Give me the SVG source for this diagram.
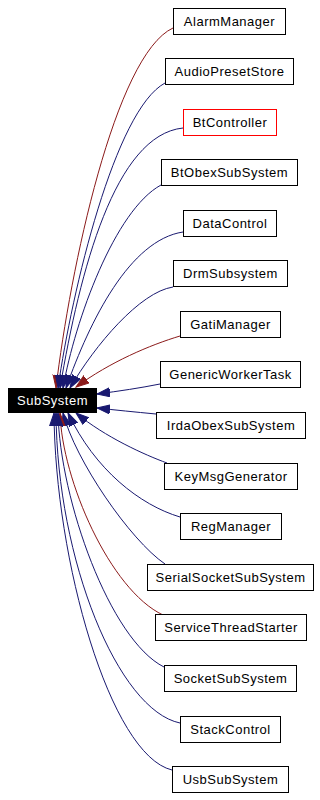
<svg xmlns="http://www.w3.org/2000/svg" width="320" height="800" viewBox="0 0 320 800">
  <style>
    .node rect { fill: #ffffff; stroke: #000000; stroke-width: 1; }
    .node text { font-family: "Liberation Sans", Arial, Helvetica, sans-serif; font-size: 13px; letter-spacing: 0.5px; fill: #000000; text-anchor: middle; }
    #SubSystem rect { fill: #000000; }
    #SubSystem text { fill: #ffffff; }
    #BtController rect { stroke: #ff0000; }
    .edge { fill: none; stroke-width: 1; }
    .pub { stroke: #191970; marker-end: url(#arrowBlue); }
    .priv { stroke: #8b1a1a; marker-end: url(#arrowRed); }
  </style>
  <defs>
    <marker id="arrowBlue" markerUnits="userSpaceOnUse" markerWidth="15" markerHeight="11" refX="13" refY="5" orient="auto">
      <path d="M0,0.5 L13,5 L0,9.5 Z" fill="#191970" stroke="#191970" stroke-width="1"/>
    </marker>
    <marker id="arrowRed" markerUnits="userSpaceOnUse" markerWidth="15" markerHeight="11" refX="13" refY="5" orient="auto">
      <path d="M0,0.5 L13,5 L0,9.5 Z" fill="#8b1a1a" stroke="#8b1a1a" stroke-width="1"/>
    </marker>
  </defs>

  <!-- inheritance connectors, drawn from each derived class to SubSystem -->
  <g id="edges">
    <path class="edge priv" d="M173,28 C115,55 70,270 56,388"/>
    <path class="edge pub" d="M165,83 C115,110 72,290 58,388"/>
    <path class="edge pub" d="M183,128 C115,135 80,270 60,388"/>
    <path class="edge pub" d="M161,185 C115,210 75,320 63,388"/>
    <path class="edge pub" d="M183,232 C130,240 90,320 66,388"/>
    <path class="edge pub" d="M173,287 C140,292 95,345 70,388"/>
    <path class="edge priv" d="M180,336 C150,345 110,362 76,387"/>
    <path class="edge pub" d="M160,384 C140,388 120,391 97,394"/>
    <path class="edge pub" d="M156,414 C135,412 115,410 97,408"/>
    <path class="edge pub" d="M167,463 C145,455 105,437 76,413"/>
    <path class="edge pub" d="M180,517 C140,505 95,470 68,413"/>
    <path class="edge pub" d="M165,564 C130,540 75,460 63,413"/>
    <path class="edge priv" d="M163,615 C110,590 62,480 60,413"/>
    <path class="edge pub" d="M164,667 C110,640 60,500 58,413"/>
    <path class="edge pub" d="M180,723 C118,710 57,560 56,413"/>
    <path class="edge pub" d="M172,770 C110,755 55,560 54,413"/>
  </g>

  <g id="SubSystem" class="node">
    <rect x="8.5" y="388.5" width="88" height="24"/>
    <text x="52.5" y="405">SubSystem</text>
  </g>

  <g id="AlarmManager" class="node">
    <rect x="173.5" y="8.5" width="112" height="26"/>
    <text x="229.5" y="26">AlarmManager</text>
  </g>
  <g id="AudioPresetStore" class="node">
    <rect x="165.5" y="58.5" width="128" height="26"/>
    <text x="229.5" y="76">AudioPresetStore</text>
  </g>
  <g id="BtController" class="node">
    <rect x="183.5" y="109.5" width="93" height="26"/>
    <text x="230" y="127">BtController</text>
  </g>
  <g id="BtObexSubSystem" class="node">
    <rect x="161.5" y="159.5" width="136" height="26"/>
    <text x="229.5" y="177">BtObexSubSystem</text>
  </g>
  <g id="DataControl" class="node">
    <rect x="183.5" y="210.5" width="93" height="26"/>
    <text x="230" y="228">DataControl</text>
  </g>
  <g id="DrmSubsystem" class="node">
    <rect x="173.5" y="260.5" width="114" height="26"/>
    <text x="230.5" y="278">DrmSubsystem</text>
  </g>
  <g id="GatiManager" class="node">
    <rect x="180.5" y="311.5" width="100" height="26"/>
    <text x="230.5" y="329">GatiManager</text>
  </g>
  <g id="GenericWorkerTask" class="node">
    <rect x="160.5" y="361.5" width="140" height="26"/>
    <text x="230.5" y="379">GenericWorkerTask</text>
  </g>
  <g id="IrdaObexSubSystem" class="node">
    <rect x="156.5" y="412.5" width="149" height="26"/>
    <text x="231" y="430">IrdaObexSubSystem</text>
  </g>
  <g id="KeyMsgGenerator" class="node">
    <rect x="164.5" y="463.5" width="133" height="26"/>
    <text x="231" y="481">KeyMsgGenerator</text>
  </g>
  <g id="RegManager" class="node">
    <rect x="180.5" y="513.5" width="101" height="26"/>
    <text x="231" y="531">RegManager</text>
  </g>
  <g id="SerialSocketSubSystem" class="node">
    <rect x="147.5" y="564.5" width="166" height="26"/>
    <text x="230.5" y="582">SerialSocketSubSystem</text>
  </g>
  <g id="ServiceThreadStarter" class="node">
    <rect x="155.5" y="614.5" width="151" height="26"/>
    <text x="231" y="632">ServiceThreadStarter</text>
  </g>
  <g id="SocketSubSystem" class="node">
    <rect x="164.5" y="665.5" width="132" height="26"/>
    <text x="230.5" y="683">SocketSubSystem</text>
  </g>
  <g id="StackControl" class="node">
    <rect x="180.5" y="716.5" width="100" height="26"/>
    <text x="230.5" y="734">StackControl</text>
  </g>
  <g id="UsbSubSystem" class="node">
    <rect x="172.5" y="766.5" width="116" height="26"/>
    <text x="230.5" y="784">UsbSubSystem</text>
  </g>
</svg>
